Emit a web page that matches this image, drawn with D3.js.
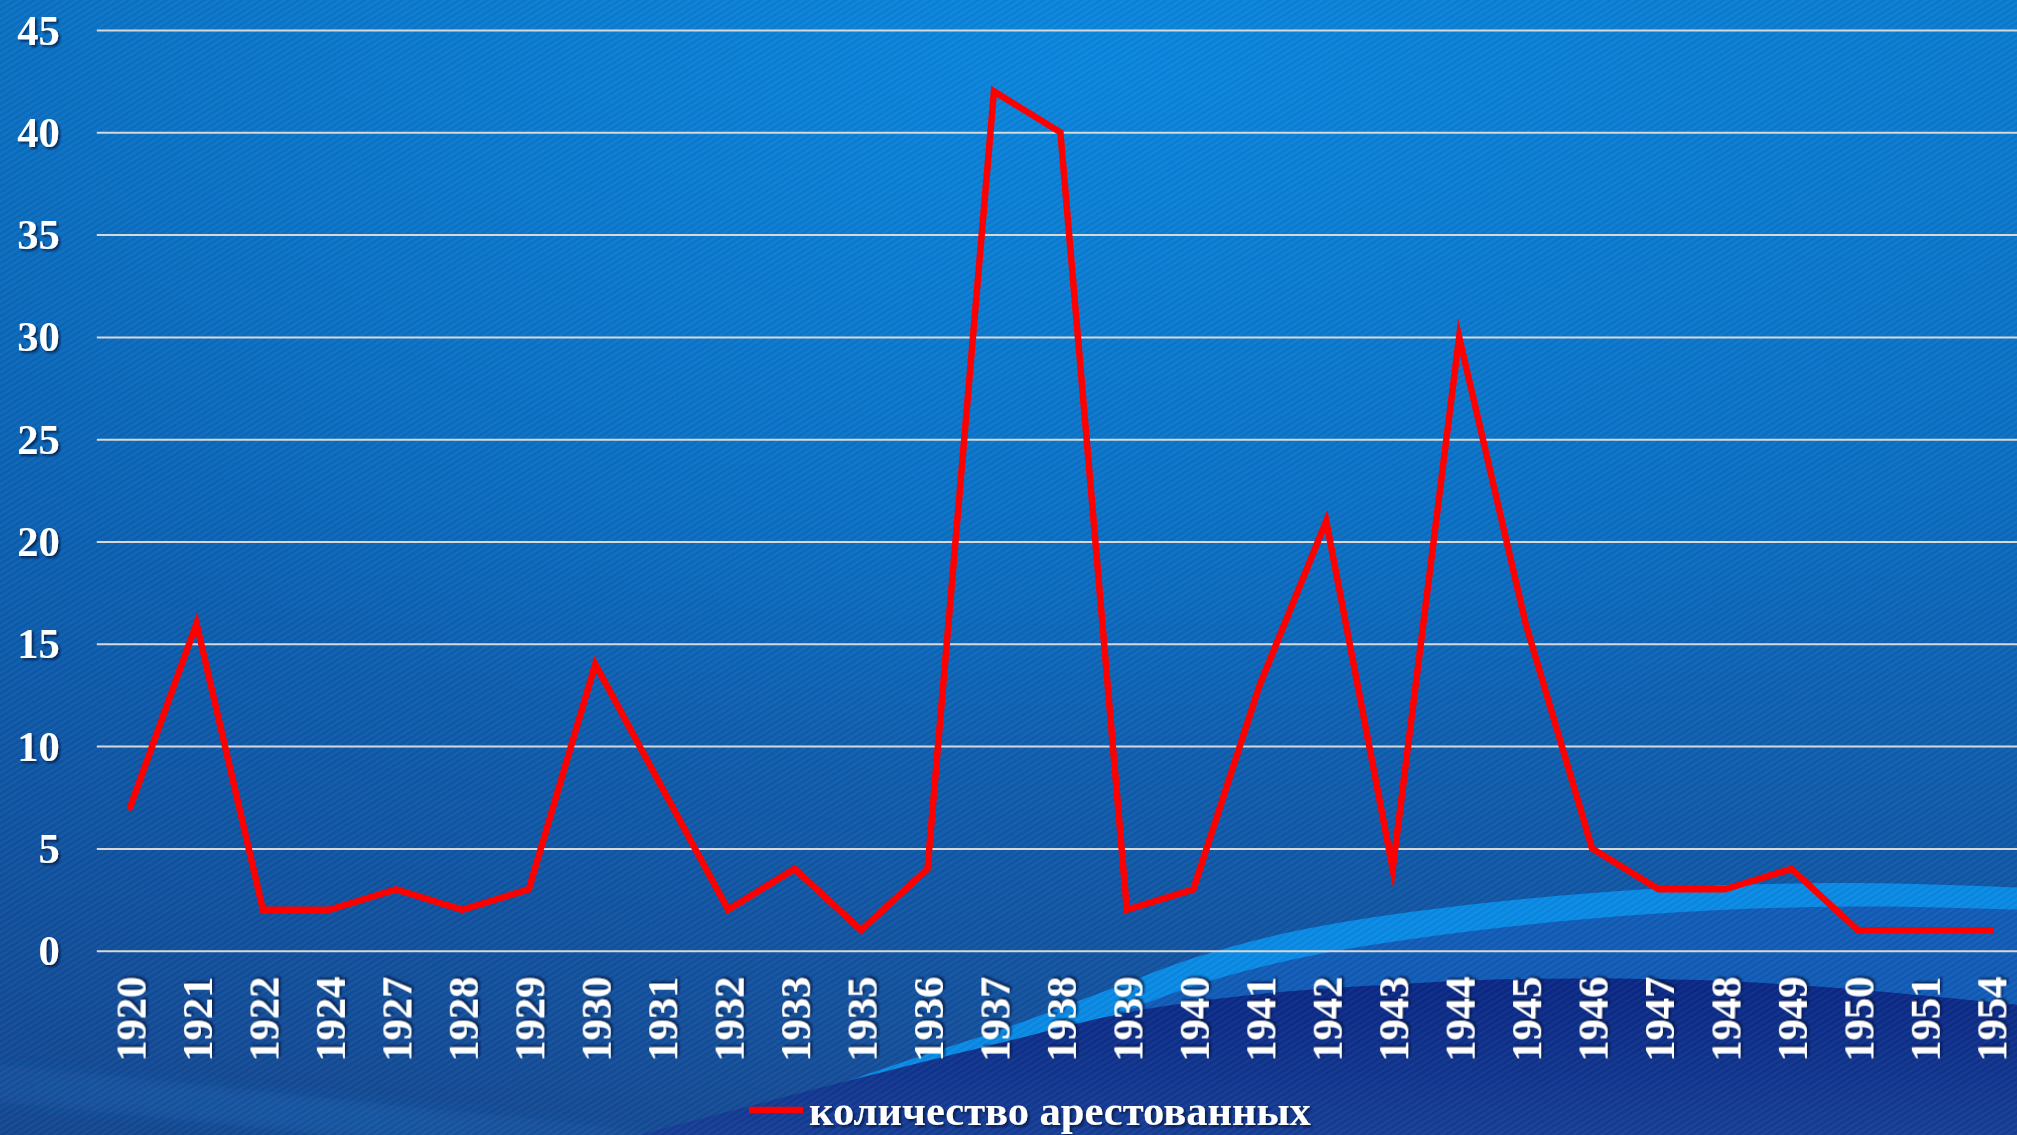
<!DOCTYPE html>
<html>
<head>
<meta charset="utf-8">
<script src="https://cdn.jsdelivr.net/npm/d3@7"></script>
<style>
  html, body { margin: 0; padding: 0; background: #0c66b8; overflow: hidden; }
  svg { display: block; }
  .lbl { font-family: "Liberation Serif", "Times New Roman", serif; font-weight: bold; font-size: 42.5px; fill: #ffffff; }
</style>
</head>
<body>
<svg id="chart" width="2017" height="1135"></svg>
<script>
// ---- data ----
const years = ['1920','1921','1922','1924','1927','1928','1929','1930','1931','1932','1933','1935','1936','1937','1938','1939','1940','1941','1942','1943','1944','1945','1946','1947','1948','1949','1950','1951','1954'];
const arrested = [7,16,2,2,3,2,3,14,8,2,4,1,4,42,40,2,3,13,21,4,30,16,5,3,3,4,1,1,1];
const yTicks = [0,5,10,15,20,25,30,35,40,45];
const seriesName = 'количество арестованных';

// ---- layout ----
const W = 2017, H = 1135;
const plotLeft = 96.8, plotRight = 2024, plotTop = 30, plotBottom = 950.7;

const svg = d3.select('#chart');
const defs = svg.append('defs');

// background gradients
const vg = defs.append('linearGradient').attr('id','bgV').attr('x1',0).attr('y1',0).attr('x2',0).attr('y2',1);
[[0,'#0a78ca'],[0.45,'#0b6abd'],[0.8,'#1256a4'],[1,'#164c95']].forEach(s=>vg.append('stop').attr('offset',s[0]).attr('stop-color',s[1]));
const hg = defs.append('linearGradient').attr('id','bgH').attr('x1',0).attr('y1',0).attr('x2',1).attr('y2',0);
[[0,'#0b2a70',0.14],[0.45,'#0b2a70',0.0],[1,'#0b2a70',0.0]].forEach(s=>hg.append('stop').attr('offset',s[0]).attr('stop-color',s[1]).attr('stop-opacity',s[2]));
const rg = defs.append('radialGradient').attr('id','bgR').attr('gradientUnits','userSpaceOnUse')
  .attr('cx',1100).attr('cy',60).attr('r',1000).attr('gradientTransform','translate(1100,60) scale(1.4,0.7) translate(-1100,-60)');
[[0,'#0a90ea',0.6],[0.55,'#0a88e0',0.3],[1,'#0a88e0',0]].forEach(s=>rg.append('stop').attr('offset',s[0]).attr('stop-color',s[1]).attr('stop-opacity',s[2]));
const ng = defs.append('linearGradient').attr('id','navy').attr('x1',0).attr('y1',0).attr('x2',0).attr('y2',1);
[[0,'#0a2784'],[0.6,'#11358e'],[1,'#173f96']].forEach(s=>ng.append('stop').attr('offset',s[0]).attr('stop-color',s[1]));
const fg = defs.append('linearGradient').attr('id','faint').attr('x1',0).attr('y1',0).attr('x2',1).attr('y2',0);
[[0,'#1e66b6',0.25],[0.5,'#1e66b6',0.45],[1,'#1e66b6',0.15]].forEach(s=>fg.append('stop').attr('offset',s[0]).attr('stop-color',s[1]).attr('stop-opacity',s[2]));

// twill texture
const pat = defs.append('pattern').attr('id','twill').attr('patternUnits','userSpaceOnUse')
  .attr('width',5).attr('height',5).attr('patternTransform','rotate(-32)');
pat.append('rect').attr('width',5).attr('height',2).attr('fill','#ffffff').attr('opacity',0.035);
pat.append('rect').attr('y',2.5).attr('width',5).attr('height',1.5).attr('fill','#001a40').attr('opacity',0.05);

// text shadow
const f = defs.append('filter').attr('id','shadow').attr('x','-20%').attr('y','-20%').attr('width','140%').attr('height','140%');
f.append('feDropShadow').attr('dx',2).attr('dy',2).attr('stdDeviation',1.3).attr('flood-color','#001436').attr('flood-opacity',0.75);
const blur = defs.append('filter').attr('id','soft').attr('x','-10%').attr('y','-50%').attr('width','120%').attr('height','200%');
blur.append('feGaussianBlur').attr('stdDeviation',6);

// background layers
svg.append('rect').attr('width',W).attr('height',H).attr('fill','url(#bgV)');
svg.append('rect').attr('width',W).attr('height',H).attr('fill','url(#bgH)');
svg.append('rect').attr('width',W).attr('height',H).attr('fill','url(#bgR)');

const curve = d3.line().curve(d3.curveCatmullRom.alpha(0.5));
// decorative waves
const faintUpper = [[-20,1062],[200,1085],[400,1106],[600,1126],[720,1145]];
const faintLower = [[720,1145],[500,1150],[300,1132],[100,1112],[-20,1100]];
svg.append('path').attr('d', curve(faintUpper) + 'L' + curve(faintLower).slice(1) + 'Z')
  .attr('fill','url(#faint)').attr('filter','url(#soft)');

const bandUpper = [[680,1140],[800,1098],[900,1063],[1000,1030],[1100,993],[1200,956],[1300,930],[1450,907],[1650,889],[1850,883],[2030,888]];
const bandLower = bandUpper.map(p=>[p[0], p[1] + (p[0] < 1300 ? 28 : 28 - (p[0]-1300)/730*6)]).reverse();
const navyTop = [[620,1140],[800,1093],[1000,1043],[1130,1012],[1260,994],[1400,984],[1520,979],[1700,980],[1850,989],[2030,1006]];

// medium region under band
svg.append('path').attr('d', curve(bandUpper) + `L2030,1140Z`).attr('fill','#125cb6');
// bright band
svg.append('path').attr('d', curve(bandUpper) + 'L' + curve(bandLower).slice(1) + 'Z').attr('fill','#0a8ae4');
// navy
svg.append('path').attr('d', curve(navyTop) + `L2030,1140Z`).attr('fill','url(#navy)');

svg.append('rect').attr('width',W).attr('height',H).attr('fill','url(#twill)');

// ---- scales ----
const x = d3.scalePoint().domain(years).range([plotLeft, plotRight]).padding(0.5);
const y = d3.scaleLinear().domain([0,45]).range([plotBottom, plotTop]);

// y axis with gridlines
const yAxis = svg.append('g').attr('transform',`translate(${plotLeft},0)`)
  .call(d3.axisLeft(y).tickValues(yTicks).tickSize(-(W - plotLeft)).tickPadding(37));
yAxis.select('.domain').remove();
yAxis.selectAll('.tick line').attr('stroke','#d8d8d8').attr('stroke-width',2);
yAxis.selectAll('.tick text').attr('class','lbl').attr('dy','0.33em').attr('filter','url(#shadow)')
  .style('text-anchor','end');

// x axis labels
const xAxis = svg.append('g').attr('transform',`translate(0,${plotBottom})`)
  .call(d3.axisBottom(x).tickSize(0));
xAxis.select('.domain').remove();
xAxis.selectAll('.tick text').attr('class','lbl')
  .attr('transform','rotate(-90)').attr('x',-26).attr('y',0).attr('dy','0.35em')
  .style('text-anchor','end').attr('filter','url(#shadow)');

// line
const line = d3.line().x((d,i)=>x(years[i])).y(d=>y(d));
svg.append('path').datum(arrested).attr('d', line)
  .attr('fill','none').attr('stroke','#ff0000').attr('stroke-width',6.5)
  .attr('stroke-linejoin','miter').attr('stroke-miterlimit',10).attr('stroke-linecap','round');

// legend
const lg = svg.append('g').attr('transform','translate(749,1110)');
lg.append('line').attr('x1',0).attr('x2',54).attr('y1',0).attr('y2',0)
  .attr('stroke','#ff0000').attr('stroke-width',6.5);
lg.append('text').attr('class','lbl').attr('x',60).attr('y',15).attr('filter','url(#shadow)').text(seriesName);
</script>
</body>
</html>
